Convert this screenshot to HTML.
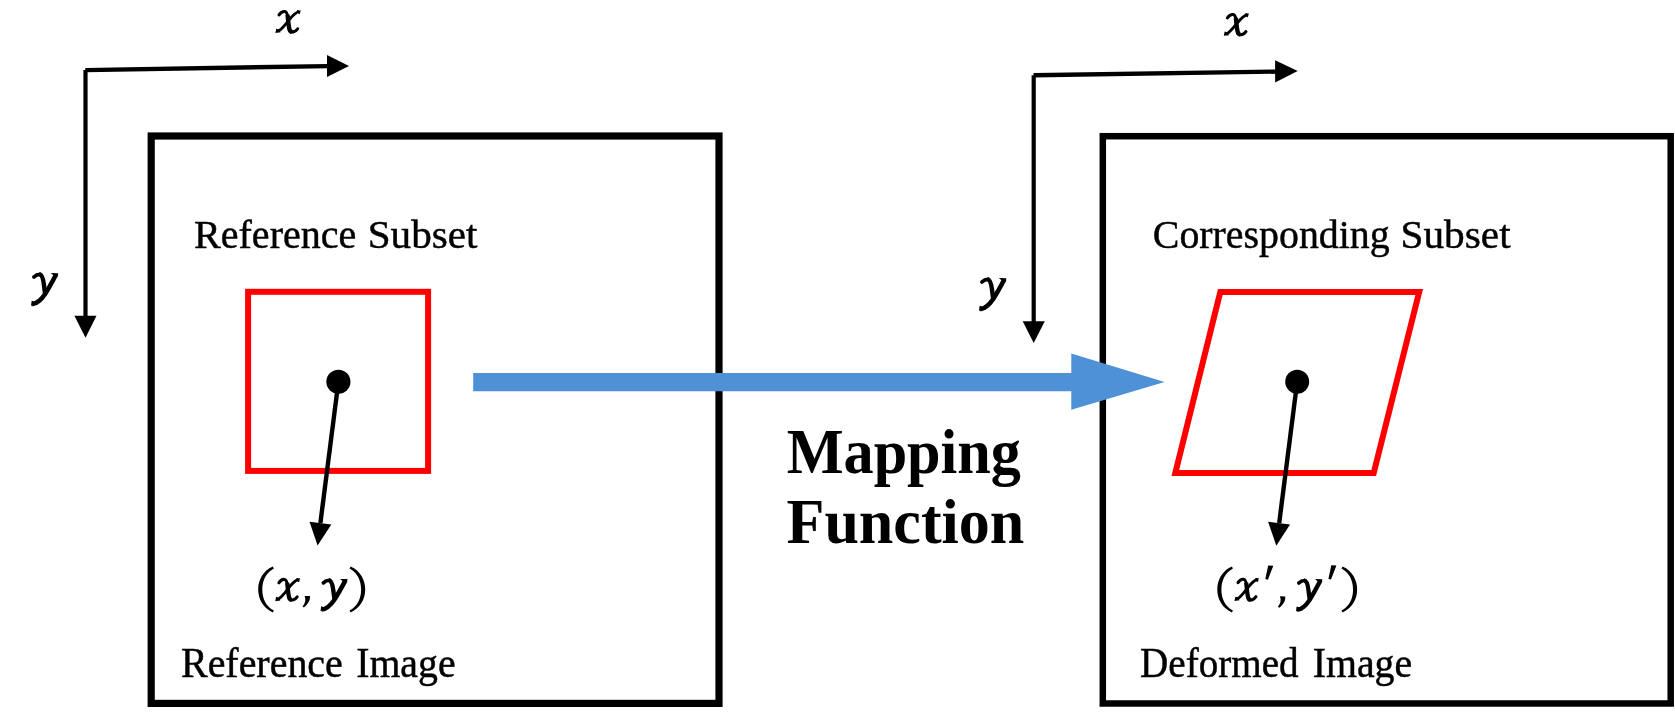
<!DOCTYPE html>
<html><head><meta charset="utf-8"><style>
html,body{margin:0;padding:0;background:#fff;overflow:hidden;}
svg{display:block;will-change:transform;}
text{font-family:"Liberation Serif",serif;fill:#000;}
</style></head><body>
<svg width="1675" height="712" viewBox="0 0 1675 712">
<rect x="0" y="0" width="1675" height="712" fill="#fff"/>
<!-- left axes -->
<line x1="85.3" y1="70.1" x2="328" y2="66.1" stroke="#000" stroke-width="4.4"/>
<line x1="85.5" y1="70.1" x2="85.5" y2="317" stroke="#000" stroke-width="4.2"/>
<polygon points="327,55 349,66 327,77" fill="#000"/>
<polygon points="74.4,315.7 96.5,315.7 85.5,337.8" fill="#000"/>
<!-- right axes -->
<line x1="1033.5" y1="75.3" x2="1276" y2="71.6" stroke="#000" stroke-width="4.4"/>
<line x1="1033.7" y1="75.3" x2="1033.7" y2="322" stroke="#000" stroke-width="4.2"/>
<polygon points="1275.1,60.2 1297.7,71.1 1275.1,82.5" fill="#000"/>
<polygon points="1022.7,321.3 1044.8,321.3 1033.7,343" fill="#000"/>
<!-- boxes -->
<rect x="151.2" y="136" width="567.8" height="567.4" fill="none" stroke="#000" stroke-width="7.2"/>
<rect x="1102.8" y="136.2" width="567.9" height="567.3" fill="none" stroke="#000" stroke-width="6.5"/>
<!-- red shapes -->
<rect x="248.1" y="291.8" width="180" height="179.1" fill="none" stroke="#f00" stroke-width="6"/>
<polygon points="1220.3,292 1419.2,292 1373.7,473 1175.3,473" fill="none" stroke="#f00" stroke-width="6"/>
<!-- dots and arrows -->
<circle cx="338.4" cy="381.8" r="12.1" fill="#000"/>
<line x1="338.4" y1="381.8" x2="320.4" y2="523" stroke="#000" stroke-width="4.4"/>
<polygon points="309.5,521.8 331.3,524.4 317.6,545.6" fill="#000"/>
<circle cx="1297.2" cy="381.8" r="12" fill="#000"/>
<line x1="1297.2" y1="381.8" x2="1279.2" y2="523" stroke="#000" stroke-width="4.4"/>
<polygon points="1268.1,521.8 1290,524.4 1276.3,545.8" fill="#000"/>
<!-- blue arrow -->
<polygon points="473.2,373 1071.3,373 1071.3,353.5 1164.6,382.1 1071.3,409.7 1071.3,391.2 473.2,391.2" fill="#4f91d7"/>

<g stroke="#000" stroke-width="0.45">
<text transform="translate(194.00,248.10) scale(1.0019,1.0148)" font-size="40" font-weight="normal" font-style="normal" >Reference</text>
<text transform="translate(367.71,248.10) scale(1.0291,1.0148)" font-size="40" font-weight="normal" font-style="normal" >Subset</text>
<text transform="translate(181.00,676.70) scale(0.9988,1.0334)" font-size="40" font-weight="normal" font-style="normal" >Reference</text>
<text transform="translate(356.21,676.70) scale(0.9939,1.0334)" font-size="40" font-weight="normal" font-style="normal" >Image</text>
<text transform="translate(1152.81,248.10) scale(0.9966,1.0148)" font-size="40" font-weight="normal" font-style="normal" >Corresponding</text>
<text transform="translate(1400.50,248.10) scale(1.0330,1.0148)" font-size="40" font-weight="normal" font-style="normal" >Subset</text>
<text transform="translate(1140.12,676.70) scale(0.9770,1.0334)" font-size="40" font-weight="normal" font-style="normal" >Deformed</text>
<text transform="translate(1312.70,676.70) scale(0.9959,1.0334)" font-size="40" font-weight="normal" font-style="normal" >Image</text>
</g>
<text transform="translate(786.73,473.30) scale(0.9712,1.0064)" font-size="62" font-weight="bold" font-style="normal" >Mapping</text>
<text transform="translate(786.50,542.90) scale(1.0004,1.0379)" font-size="62" font-weight="bold" font-style="normal" >Function</text>
<g transform="translate(275.40,9.41) scale(0.04288,0.04203)">
<path d="M 85,130 C 120,78 170,45 215,50 C 265,55 280,110 290,195 C 300,290 310,410 330,480 C 345,530 390,540 430,530 C 470,520 500,490 520,460" fill="none" stroke="#000" stroke-width="72" stroke-linecap="round"/>
<path d="M 282,130 C 287,160 289,180 290,195 C 300,290 310,410 330,480 C 340,515 360,530 390,535" fill="none" stroke="#000" stroke-width="102"/>
<path d="M 545,50 C 460,80 390,160 320,250 C 240,350 150,470 70,515" fill="none" stroke="#000" stroke-width="68"/>
<polygon points="500,20 590,25 565,115 530,100" fill="#000"/>
<polygon points="0,562 20,460 70,475 120,545" fill="#000"/>
</g>
<g transform="translate(24.23,263.15) scale(0.06904,0.06833)">
<path d="M 140,202 C 165,177 195,162 228,163" fill="none" stroke="#000" stroke-width="54" stroke-linecap="round"/>
<path d="M 218,163 C 262,167 277,240 286,320 C 292,380 298,420 305,455" fill="none" stroke="#000" stroke-width="64"/>
<path d="M 462,165 C 410,265 350,375 300,455 C 240,545 180,592 115,600" fill="none" stroke="#000" stroke-width="66"/>
<polygon points="383,143 492,146 482,200 422,178" fill="#000"/>
<polygon points="98,622 108,550 150,565 200,605" fill="#000"/>
</g>
<g transform="translate(1223.80,12.52) scale(0.04254,0.04151)">
<path d="M 85,130 C 120,78 170,45 215,50 C 265,55 280,110 290,195 C 300,290 310,410 330,480 C 345,530 390,540 430,530 C 470,520 500,490 520,460" fill="none" stroke="#000" stroke-width="72" stroke-linecap="round"/>
<path d="M 282,130 C 287,160 289,180 290,195 C 300,290 310,410 330,480 C 340,515 360,530 390,535" fill="none" stroke="#000" stroke-width="102"/>
<path d="M 545,50 C 460,80 390,160 320,250 C 240,350 150,470 70,515" fill="none" stroke="#000" stroke-width="68"/>
<polygon points="500,20 590,25 565,115 530,100" fill="#000"/>
<polygon points="0,562 20,460 70,475 120,545" fill="#000"/>
</g>
<g transform="translate(972.18,268.12) scale(0.06954,0.06853)">
<path d="M 140,202 C 165,177 195,162 228,163" fill="none" stroke="#000" stroke-width="54" stroke-linecap="round"/>
<path d="M 218,163 C 262,167 277,240 286,320 C 292,380 298,420 305,455" fill="none" stroke="#000" stroke-width="64"/>
<path d="M 462,165 C 410,265 350,375 300,455 C 240,545 180,592 115,600" fill="none" stroke="#000" stroke-width="66"/>
<polygon points="383,143 492,146 482,200 422,178" fill="#000"/>
<polygon points="98,622 108,550 150,565 200,605" fill="#000"/>
</g>
<path d="M 272.8,566.6 C 263,571 258.2,580 258.2,589.5 C 258.2,599 263,608 272.8,612.4 L 273.8,610.6 C 265.5,606 262.3,598 262.3,589.5 C 262.3,581 265.5,573 273.8,568.4 Z" fill="#000"/>
<g transform="translate(275.30,577.31) scale(0.04203,0.04238)">
<path d="M 85,130 C 120,78 170,45 215,50 C 265,55 280,110 290,195 C 300,290 310,410 330,480 C 345,530 390,540 430,530 C 470,520 500,490 520,460" fill="none" stroke="#000" stroke-width="72" stroke-linecap="round"/>
<path d="M 282,130 C 287,160 289,180 290,195 C 300,290 310,410 330,480 C 340,515 360,530 390,535" fill="none" stroke="#000" stroke-width="102"/>
<path d="M 545,50 C 460,80 390,160 320,250 C 240,350 150,470 70,515" fill="none" stroke="#000" stroke-width="68"/>
<polygon points="500,20 590,25 565,115 530,100" fill="#000"/>
<polygon points="0,562 20,460 70,475 120,545" fill="#000"/>
</g>
<path d="M 1279.9,596.2 L 1285.2,596.4 C 1286,600 1283,605 1279.2,607.8 L 1277.9,606.7 C 1280.5,603.5 1281.5,600 1279.9,596.2 Z" fill="#000" transform="translate(-975.3,-0.3)"/>
<g transform="translate(313.78,569.31) scale(0.06853,0.06713)">
<path d="M 140,202 C 165,177 195,162 228,163" fill="none" stroke="#000" stroke-width="54" stroke-linecap="round"/>
<path d="M 218,163 C 262,167 277,240 286,320 C 292,380 298,420 305,455" fill="none" stroke="#000" stroke-width="64"/>
<path d="M 462,165 C 410,265 350,375 300,455 C 240,545 180,592 115,600" fill="none" stroke="#000" stroke-width="66"/>
<polygon points="383,143 492,146 482,200 422,178" fill="#000"/>
<polygon points="98,622 108,550 150,565 200,605" fill="#000"/>
</g>
<path d="M 272.8,566.6 C 263,571 258.2,580 258.2,589.5 C 258.2,599 263,608 272.8,612.4 L 273.8,610.6 C 265.5,606 262.3,598 262.3,589.5 C 262.3,581 265.5,573 273.8,568.4 Z" fill="#000" transform="matrix(-1,0,0,1,623.4,0)"/>
<path d="M 272.8,566.6 C 263,571 258.2,580 258.2,589.5 C 258.2,599 263,608 272.8,612.4 L 273.8,610.6 C 265.5,606 262.3,598 262.3,589.5 C 262.3,581 265.5,573 273.8,568.4 Z" fill="#000" transform="translate(959.1,0)"/>
<g transform="translate(1234.50,577.21) scale(0.04136,0.04238)">
<path d="M 85,130 C 120,78 170,45 215,50 C 265,55 280,110 290,195 C 300,290 310,410 330,480 C 345,530 390,540 430,530 C 470,520 500,490 520,460" fill="none" stroke="#000" stroke-width="72" stroke-linecap="round"/>
<path d="M 282,130 C 287,160 289,180 290,195 C 300,290 310,410 330,480 C 340,515 360,530 390,535" fill="none" stroke="#000" stroke-width="102"/>
<path d="M 545,50 C 460,80 390,160 320,250 C 240,350 150,470 70,515" fill="none" stroke="#000" stroke-width="68"/>
<polygon points="500,20 590,25 565,115 530,100" fill="#000"/>
<polygon points="0,562 20,460 70,475 120,545" fill="#000"/>
</g>
<polygon points="1268.2,565.5 1273.3,565.7 1267.9,579.7 1265.3,579.1" fill="#000"/>
<path d="M 1279.9,596.2 L 1285.2,596.4 C 1286,600 1283,605 1279.2,607.8 L 1277.9,606.7 C 1280.5,603.5 1281.5,600 1279.9,596.2 Z" fill="#000"/>
<g transform="translate(1289.43,569.48) scale(0.06701,0.06733)">
<path d="M 140,202 C 165,177 195,162 228,163" fill="none" stroke="#000" stroke-width="54" stroke-linecap="round"/>
<path d="M 218,163 C 262,167 277,240 286,320 C 292,380 298,420 305,455" fill="none" stroke="#000" stroke-width="64"/>
<path d="M 462,165 C 410,265 350,375 300,455 C 240,545 180,592 115,600" fill="none" stroke="#000" stroke-width="66"/>
<polygon points="383,143 492,146 482,200 422,178" fill="#000"/>
<polygon points="98,622 108,550 150,565 200,605" fill="#000"/>
</g>
<polygon points="1331.3,565.3 1336.4,565.5 1331,579.5 1328.4,578.9" fill="#000"/>
<path d="M 272.8,566.6 C 263,571 258.2,580 258.2,589.5 C 258.2,599 263,608 272.8,612.4 L 273.8,610.6 C 265.5,606 262.3,598 262.3,589.5 C 262.3,581 265.5,573 273.8,568.4 Z" fill="#000" transform="matrix(-1,0,0,1,1615.35,0)"/>
</svg>
</body></html>
